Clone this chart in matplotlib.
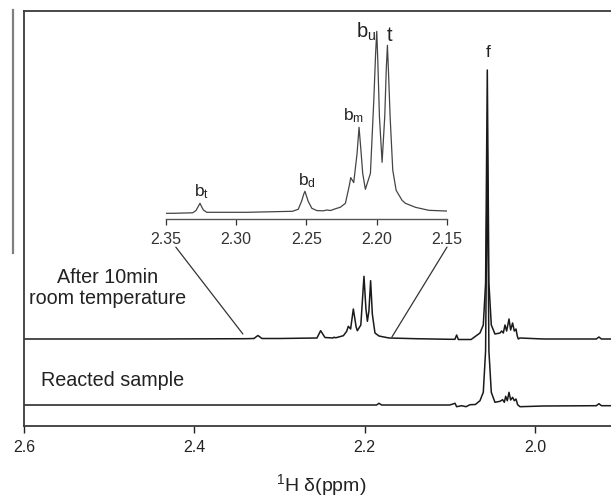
import matplotlib
matplotlib.use("Agg")
import matplotlib.pyplot as plt
from matplotlib.lines import Line2D
from matplotlib.patches import ConnectionPatch

plt.rcParams["font.family"] = ["Liberation Sans", "DejaVu Sans"]
plt.rcParams["mathtext.fontset"] = "custom"
plt.rcParams["mathtext.rm"] = "Liberation Sans"
plt.rcParams["mathtext.default"] = "regular"

# spectrum after 10 min at room temperature (ppm, intensity above its baseline)
top_ppm = [2.600, 2.450, 2.340, 2.330, 2.3253, 2.3206, 2.300, 2.256, 2.2517, 2.2466,
           2.2372, 2.2360, 2.2340, 2.2250, 2.2211, 2.2192, 2.2165, 2.2133, 2.2100,
           2.2086, 2.2045, 2.2008, 2.1985, 2.1968, 2.1950, 2.1930, 2.1910, 2.1879,
           2.1832, 2.1714, 2.140, 2.100, 2.094, 2.0920, 2.090, 2.075, 2.0646, 2.0607,
           2.0580, 2.0560, 2.0541, 2.0513, 2.0470, 2.0411, 2.0391, 2.0372, 2.0352,
           2.0333, 2.0305, 2.0286, 2.0263, 2.0243, 2.0223, 2.0208, 2.0196, 2.0176,
           1.990, 1.928, 1.9249, 1.922, 1.9037]
top_int = [0.0, 0.0, 0.3, 0.5, 3.5, 0.5, 0.5, 1.0, 8.3, 1.5,
           1.0, 1.8, 1.2, 3.3, 7.7, 12.7, 10.0, 30.0, 12.0,
           8.3, 14.0, 62.7, 30.0, 17.7, 28.0, 58.3, 25.0, 6.0,
           3.0, 1.0, 0.3, -0.3, -0.3, 4.0, -0.5, -0.5, 6.0, 14.0,
           56.0, 269.0, 56.0, 14.0, 5.0, 6.0, 8.0, 6.0, 14.0,
           8.0, 20.0, 9.0, 16.0, 8.0, 10.0, 3.0, 0.0, 1.0,
           0.0, 0.0, 2.0, 0.0, 0.0]

# reacted sample
low_ppm = [2.600, 2.400, 2.186, 2.1832, 2.180, 2.100, 2.0939, 2.0920, 2.0861,
           2.0810, 2.0763, 2.0700, 2.0646, 2.0607, 2.0580, 2.0560, 2.0541, 2.0513,
           2.0470, 2.0411, 2.0380, 2.0360, 2.0344, 2.0325, 2.0305, 2.0286, 2.0263,
           2.0243, 2.0223, 2.0204, 2.0176, 1.990, 1.928, 1.9249, 1.922, 1.9037]
low_int = [0.0, 0.0, 0.0, 1.7, 0.0, 0.0, 1.7, -1.7, -0.7,
           -1.7, 0.3, 0.5, 4.3, 12.7, 54.0, 255.0, 54.0, 12.7,
           2.7, 3.7, 5.3, 2.7, 8.7, 4.3, 12.7, 5.0, 7.7,
           4.3, 6.0, 0.3, -1.7, -1.0, -0.7, 1.3, -0.7, -0.7]

# expanded region 2.35-2.15 ppm (inset)
ins_ppm = [2.3500, 2.3448, 2.3310, 2.3287, 2.3268, 2.3258, 2.3248, 2.3234, 2.3210,
           2.3000, 2.2926, 2.2600, 2.2559, 2.2535, 2.2520, 2.2511, 2.2502, 2.2488,
           2.2462, 2.2426, 2.2380, 2.2355, 2.2330, 2.2284, 2.2260, 2.2223, 2.2195,
           2.2185, 2.2164, 2.2140, 2.2126, 2.2112, 2.2100, 2.2081, 2.2045, 2.2021,
           2.2008, 2.2000, 2.1992, 2.1981, 2.1962, 2.1943, 2.1932, 2.1924, 2.1916,
           2.1905, 2.1886, 2.1862, 2.1820, 2.1796, 2.1725, 2.1630, 2.1511, 2.1500]
ins_int = [0.0, 0.0, 0.5, 2.7, 7.5, 10.0, 7.0, 3.3, 1.0,
           1.0, 1.0, 2.0, 4.0, 12.0, 19.0, 22.0, 18.0, 12.0,
           5.0, 2.7, 2.5, 3.3, 2.8, 5.0, 6.0, 10.0, 28.0,
           35.7, 30.7, 60.0, 86.0, 62.0, 40.0, 24.0, 40.0, 113.0,
           160.0, 182.0, 150.0, 97.0, 51.0, 97.0, 145.0, 168.0, 140.0,
           97.0, 43.0, 23.0, 13.0, 10.0, 6.0, 3.0, 2.3, 2.3]

offsets = [87, 21]
main_ticks = [2.6, 2.4, 2.2, 2.0]
ins_ticks = [2.35, 2.30, 2.25, 2.20, 2.15]

fig = plt.figure(figsize=(6.11, 5.0), dpi=100)
ax = fig.add_axes([24 / 611, 74 / 500, 593 / 611, 415 / 500])
ax.plot(top_ppm, [v + offsets[0] for v in top_int], color="#1a1a1a", lw=1.1)
ax.plot(low_ppm, [v + offsets[1] for v in low_int], color="#1a1a1a", lw=1.1)
ax.set_xlim(2.6, 1.9037)
ax.set_ylim(0, 415)
ax.set_yticks([])
ax.set_xticks(main_ticks)
ax.set_xticklabels([f"{t:.1f}" for t in main_ticks])
ax.tick_params(axis="x", direction="out", length=5, width=1, pad=5,
               labelsize=11.5, colors="#222222")
for s in ("top", "left", "bottom"):
    ax.spines[s].set_color("#3a3a3a")
    ax.spines[s].set_linewidth(1.3)
ax.spines["right"].set_visible(False)

ax.text(2.5014, 138, "After 10min\nroom temperature", ha="center", va="center",
        fontsize=14.2, color="#222222", linespacing=1.1)
ax.text(2.4960, 46, "Reacted sample", ha="center", va="center",
        fontsize=14.2, color="#222222")
ax.text(2.0552, 368.7, "f", ha="center", va="baseline", fontsize=12.5, color="#222222")

ins = fig.add_axes([166 / 611, 281 / 500, 281 / 611, 194 / 500])
ins.plot(ins_ppm, ins_int, color="#444444", lw=0.9)
ins.set_xlim(2.35, 2.15)
ins.set_ylim(-5.7, 188.3)
ins.set_xticks(ins_ticks)
ins.set_xticklabels([f"{t:.2f}" for t in ins_ticks])
ins.set_yticks([])
ins.tick_params(axis="x", direction="out", length=4, width=0.9, pad=5,
                labelsize=11.5, colors="#333333")
for s in ("top", "left", "right"):
    ins.spines[s].set_visible(False)
ins.spines["bottom"].set_color("#555555")
ins.spines["bottom"].set_linewidth(1.0)
ins.patch.set_alpha(0)

ins.text(2.3247, 16.6, "b$_t$", ha="center", va="baseline", fontsize=12.5, color="#222222")
ins.text(2.2495, 28, "b$_d$", ha="center", va="baseline", fontsize=12.5, color="#222222")
ins.text(2.2167, 92.6, "b$_m$", ha="center", va="baseline", fontsize=12.5, color="#222222")
ins.text(2.2075, 176, "b$_u$", ha="center", va="baseline", fontsize=14.5, color="#222222")
ins.text(2.1909, 172.6, "t", ha="center", va="baseline", fontsize=14.5, color="#222222")

# lines from the inset down to the main spectrum
for xa, xb, yb in [(2.343, 2.343, 92), (2.150, 2.168, 89)]:
    con = ConnectionPatch(xyA=(xa, -0.145), coordsA=ins.get_xaxis_transform(),
                          xyB=(xb, yb), coordsB=ax.transData,
                          color="#333333", lw=0.9)
    fig.add_artist(con)

fig.add_artist(Line2D([13 / 611, 13 / 611], [1 - 10 / 500, 1 - 253 / 500],
                      color="#808080", lw=1.6, transform=fig.transFigure))

fig.text(321 / 611, 1 - 485 / 500, "$^1$H δ(ppm)", ha="center", va="center",
         fontsize=14, color="#222222")

fig.savefig("out.png", dpi=100)
